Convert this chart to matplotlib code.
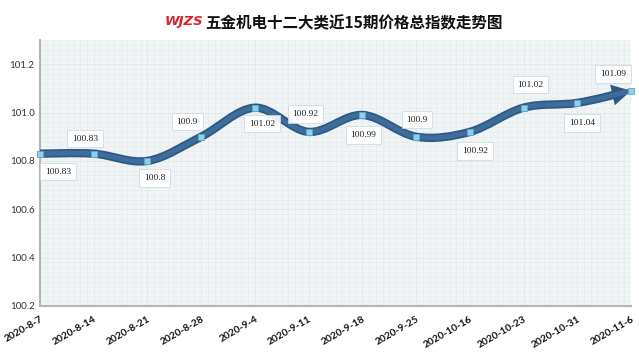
import matplotlib
matplotlib.use('Agg')
import matplotlib.pyplot as plt
from matplotlib.path import Path
from matplotlib.patches import FancyArrowPatch
import numpy as np

# data
dates = ['2020-8-7', '2020-8-14', '2020-8-21', '2020-8-28', '2020-9-4', '2020-9-11',
         '2020-9-18', '2020-9-25', '2020-10-16', '2020-10-23', '2020-10-31', '2020-11-6']
values = [100.83, 100.83, 100.80, 100.90, 101.02, 100.92,
          100.99, 100.90, 100.92, 101.02, 101.04, 101.09]
# label offsets in pixels (right, up)
label_dx = [18, -9, 7, -14, 7, -3, 1, 1, 5, 7, 5, -18]
label_dy = [-18, 15, -17, 15, -16, 18, -20, 17, -19, 23, -20, 17]
yticks = [100.2, 100.4, 100.6, 100.8, 101.0, 101.2]

title = '五金机电十二大类近15期价格总指数走势图'

fig = plt.figure(figsize=(6.39, 3.54), dpi=100)
ax = fig.add_axes([40/639, 1 - 306/354, 591/639, 266/354])
ax.set_facecolor('#f0f4f5')

x = np.arange(len(values))
y = np.array(values)

# smooth curve through the points (Catmull-Rom -> cubic bezier)
verts = [(x[0], y[0])]
codes = [Path.MOVETO]
n = len(x)
for i in range(n - 1):
    p0 = np.array([x[max(i - 1, 0)], y[max(i - 1, 0)]])
    p1 = np.array([x[i], y[i]])
    p2 = np.array([x[i + 1], y[i + 1]])
    p3 = np.array([x[min(i + 2, n - 1)], y[min(i + 2, n - 1)]])
    c1 = p1 + (p2 - p0) / 6
    c2 = p2 - (p3 - p1) / 6
    verts += [tuple(c1), tuple(c2), tuple(p2)]
    codes += [Path.CURVE4] * 3
curve = Path(verts, codes)

arrow_dark = FancyArrowPatch(path=curve, arrowstyle='-|>,head_length=0.45,head_width=0.25',
                             mutation_scale=10, color='#2d5985', lw=6,
                             transform=ax.transData, clip_on=False, zorder=3,
                             capstyle='butt', joinstyle='miter')
ax.add_patch(arrow_dark)
arrow_light = FancyArrowPatch(path=curve, arrowstyle='-',
                              color='#3e6d9c', lw=3.5,
                              transform=ax.transData, clip_on=False, zorder=4)
ax.add_patch(arrow_light)

ax.plot(x, y, linestyle='none', marker='s', markersize=4.5,
        markerfacecolor='#8fd0e8', markeredgecolor='#5aa9c9', markeredgewidth=0.6,
        zorder=5, clip_on=False)

for xi, yi, dx, dy in zip(x, y, label_dx, label_dy):
    ax.annotate(f'{yi:g}', (xi, yi), xytext=(dx * 0.72, dy * 0.72),
                textcoords='offset points', ha='center', va='center',
                fontsize=6.8, family='Liberation Serif', color='#222222',
                bbox=dict(boxstyle='square,pad=0.5', facecolor='white',
                          edgecolor='#c8d8e4', linewidth=0.6, alpha=0.9),
                zorder=6, annotation_clip=False)

ax.set_xlim(0, 11)
ax.set_ylim(100.2, 101.3)
ax.set_xticks(x)
ax.set_xticklabels(dates, rotation=30, ha='right', rotation_mode='anchor',
                   fontsize=7.3, fontweight='bold', color='#111111', family='Lato')
ax.set_yticks(yticks)
ax.set_yticklabels([f'{v:.1f}' for v in yticks], fontsize=7, color='#333333', family='Lato')
ax.tick_params(axis='both', length=0, pad=4)
ax.tick_params(axis='x', pad=6)

# fine background grid
ax.set_xticks(np.arange(0, 11.01, 1 / 8), minor=True)
ax.set_yticks(np.arange(100.2, 101.3, 0.02), minor=True)
ax.tick_params(which='minor', length=0)
ax.grid(which='minor', color='#e2e9ec', linewidth=0.4)
ax.grid(which='major', color='#dde5e8', linewidth=0.5)
ax.set_axisbelow(True)

for s in ['top', 'right']:
    ax.spines[s].set_visible(False)
for s in ['left', 'bottom']:
    ax.spines[s].set_color('#b4b4b4')
    ax.spines[s].set_linewidth(1.5)

# title with small logo
fig.text(165/639, 0.94, 'WJZS', color='#d8232a', fontsize=9.5, fontweight='bold',
         fontstyle='italic', ha='left', va='center', family='DejaVu Sans')
fig.text(205/639, 0.935, title, fontsize=11.2, fontweight='bold', color='#111111',
         ha='left', va='center', family=['Noto Sans CJK SC', 'DejaVu Sans'])

fig.savefig('out.png', dpi=100)
